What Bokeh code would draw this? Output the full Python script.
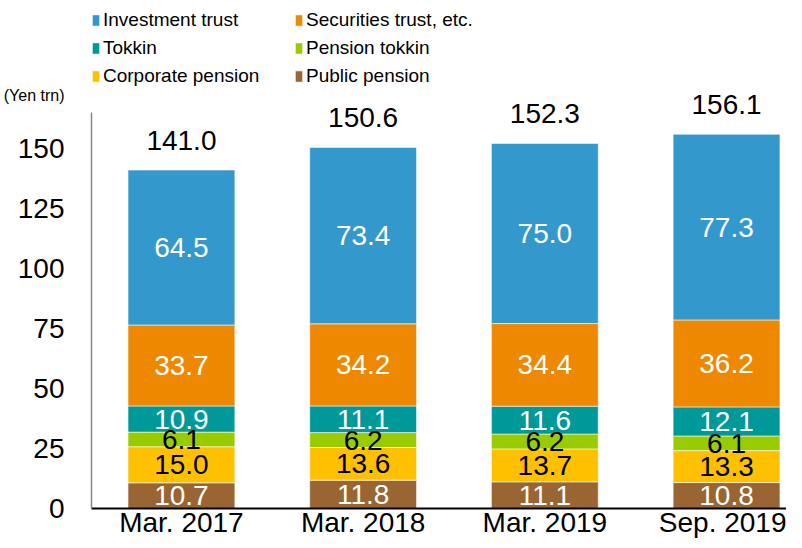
from bokeh.plotting import figure
from bokeh.models import (Range1d, FixedTicker, Legend, LegendItem, LinearAxis,
                          ColumnDataSource)
from bokeh.core.properties import value
from bokeh.embed import file_html
from bokeh.resources import INLINE

# ---- data ----
periods = ["Mar. 2017", "Mar. 2018", "Mar. 2019", "Sep. 2019"]
public_pension = [10.7, 11.8, 11.1, 10.8]
corporate_pension = [15.0, 13.6, 13.7, 13.3]
pension_tokkin = [6.1, 6.2, 6.2, 6.1]
tokkin = [10.9, 11.1, 11.6, 12.1]
securities_trust = [33.7, 34.2, 34.4, 36.2]
investment_trust = [64.5, 73.4, 75.0, 77.3]
totals = [141.0, 150.6, 152.3, 156.1]
y_ticks = [0, 25, 50, 75, 100, 125, 150]
unit_label = "(Yen trn)"

series_keys = ["public", "corporate", "ptokkin", "tokkin", "securities", "investment"]
series_names = ["Public pension", "Corporate pension", "Pension tokkin", "Tokkin",
                "Securities trust, etc.", "Investment trust"]
series_values = [public_pension, corporate_pension, pension_tokkin, tokkin,
                 securities_trust, investment_trust]
colors = ["#996633", "#FFC000", "#99CC00", "#009999", "#EE8800", "#3399CC"]
label_colors = ["white", "black", "black", "white", "white", "white"]

FONT = "Liberation Sans"
UNIT_POS = 172  # vertical position of the unit caption

xs = list(range(len(periods)))

p = figure(width=786, height=540, output_backend="svg", toolbar_location=None,
           x_range=Range1d(-0.495, 3.33), y_range=Range1d(0, 211.5))
p.min_border = 0
p.min_border_left = 85
p.min_border_right = 0
p.min_border_top = 0
p.min_border_bottom = 0
p.outline_line_color = None
p.xgrid.visible = False
p.ygrid.visible = False
p.background_fill_color = "white"
p.border_fill_color = "white"

data = {"x": xs}
for k, v in zip(series_keys, series_values):
    data[k] = v
src = ColumnDataSource(data)

renderers = p.vbar_stack(series_keys, x="x", width=0.588, source=src, color=colors,
                         line_color="white", line_alpha=0.55, line_width=1)

# segment labels
bottoms = [0.0] * len(xs)
for vals, tc in zip(series_values, label_colors):
    mids = [b + v / 2 for b, v in zip(bottoms, vals)]
    lsrc = ColumnDataSource(dict(x=xs, y=mids, t=["%.1f" % v for v in vals]))
    p.text(x="x", y="y", text="t", source=lsrc, text_align="center",
           text_baseline="middle", text_color=tc, text_font=value(FONT),
           text_font_size="28px")
    bottoms = [b + v for b, v in zip(bottoms, vals)]

# totals
tsrc = ColumnDataSource(dict(x=xs, y=bottoms, t=["%.1f" % v for v in totals]))
p.text(x="x", y="y", text="t", source=tsrc, text_align="center",
       text_baseline="middle", text_color="black", text_font=value(FONT),
       text_font_size="28px", y_offset=-30)

# axes
p.yaxis.ticker = FixedTicker(ticks=y_ticks)
p.yaxis.bounds = (0, 165)
p.yaxis.axis_line_color = "#868686"
p.yaxis.axis_line_width = 1.5
p.yaxis.major_tick_line_color = None
p.yaxis.minor_tick_line_color = None
p.yaxis.major_tick_out = 0
p.yaxis.major_tick_in = 0
p.yaxis.major_label_standoff = 27
p.yaxis.major_label_text_font = FONT
p.yaxis.major_label_text_font_size = "28px"
p.yaxis.major_label_text_color = "black"

# unit caption as an outer left axis with a single labelled tick
unit_axis = LinearAxis(ticker=FixedTicker(ticks=[UNIT_POS]),
                       major_label_overrides={UNIT_POS: unit_label},
                       axis_line_color=None, major_tick_line_color=None,
                       minor_tick_line_color=None, major_tick_in=0, major_tick_out=0,
                       major_label_standoff=-50, major_label_text_font=FONT,
                       major_label_text_font_size="16px", major_label_text_color="black")
p.add_layout(unit_axis, "left")

p.xaxis.ticker = FixedTicker(ticks=xs)
p.xaxis.major_label_overrides = {i: s for i, s in zip(xs, periods)}
p.xaxis.axis_line_color = "black"
p.xaxis.axis_line_width = 2
p.xaxis.major_tick_line_color = None
p.xaxis.minor_tick_line_color = None
p.xaxis.major_tick_out = 0
p.xaxis.major_tick_in = 0
p.xaxis.major_label_standoff = -2
p.xaxis.major_label_text_font = FONT
p.xaxis.major_label_text_font_size = "28px"
p.xaxis.major_label_text_color = "black"

# legends (two columns)
rmap = dict(zip(series_names, renderers))
col1 = ["Investment trust", "Tokkin", "Corporate pension"]
col2 = ["Securities trust, etc.", "Pension tokkin", "Public pension"]
for names, xloc in ((col1, 0), (col2, 203)):
    leg = Legend(items=[LegendItem(label=n, renderers=[rmap[n]]) for n in names],
                 location=(xloc, 420), orientation="vertical",
                 glyph_width=9, glyph_height=14, label_standoff=3,
                 label_height=24, spacing=4, padding=0, margin=0,
                 label_text_font=FONT, label_text_font_size="19px",
                 label_text_color="black",
                 border_line_color=None, background_fill_alpha=0)
    p.add_layout(leg)

open("out.html", "w").write(file_html(p, INLINE))
